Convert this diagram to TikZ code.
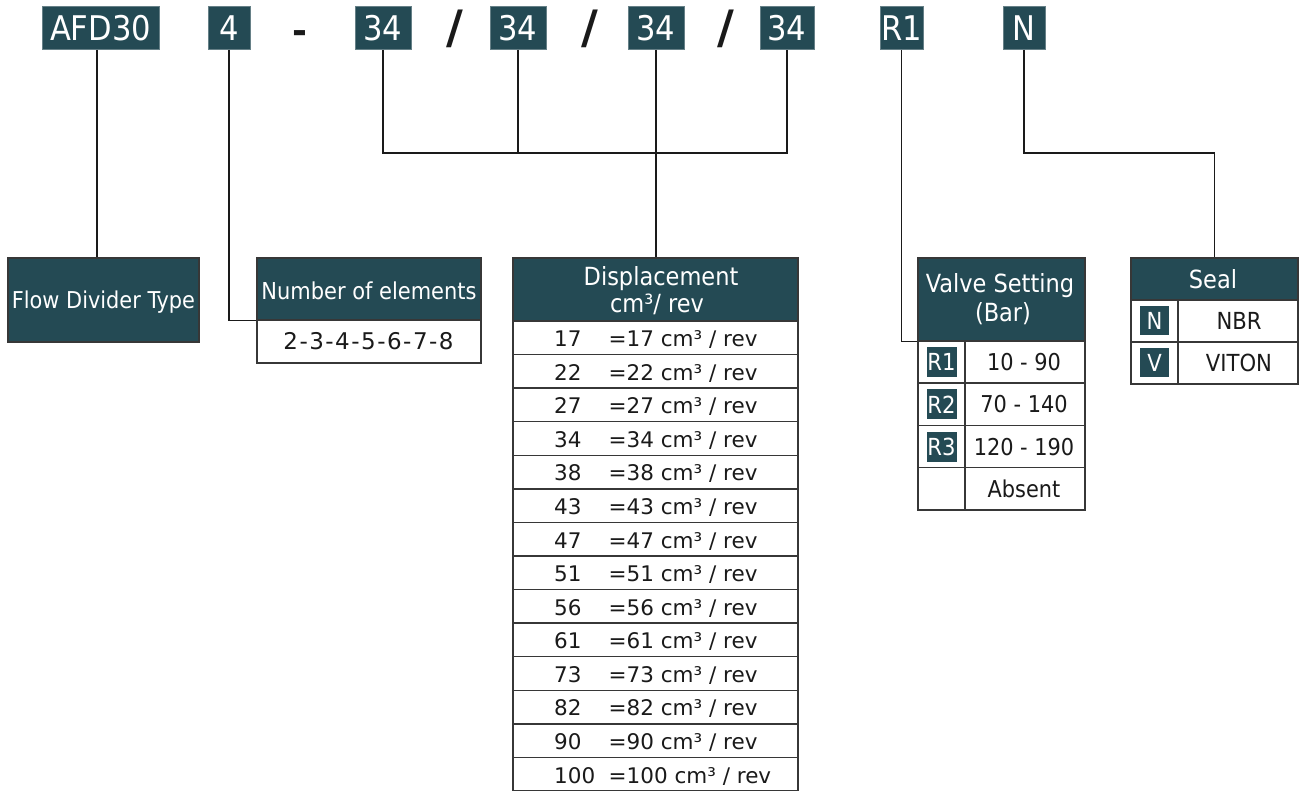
\documentclass[tikz,border=0pt]{standalone}
\usepackage{fontspec}
\setmainfont{DejaVu Sans}
\newfontfamily\condfont{DejaVu Sans Condensed}
\definecolor{dark}{RGB}{36,74,84}
\definecolor{edge}{RGB}{55,55,55}
\definecolor{ink}{RGB}{26,26,26}
\begin{document}
\begin{tikzpicture}[x=1pt,y=-1pt,
  code/.style={fill=dark, draw=dark!70!white, line width=0.8pt, text=white, inner sep=0pt, minimum height=43pt, font=\condfont\fontsize{34}{34}\selectfont},
  sep/.style={text=ink, inner sep=0pt, anchor=base},
  hdr/.style={fill=dark, draw=edge, line width=1.5pt, inner sep=0pt},
  htxt/.style={text=white, inner sep=0pt, anchor=base, font=\condfont\fontsize{25}{25}\selectfont},
  cell/.style={draw=edge, line width=1.5pt, fill=white, inner sep=0pt},
  tag/.style={fill=dark, text=white, inner sep=0pt, minimum width=30pt, minimum height=30pt, font=\condfont\fontsize{23.5}{23.5}\selectfont},
  conn/.style={draw=ink, line width=1.4pt},
  txt/.style={font=\fontsize{21.5}{21.5}\selectfont, inner sep=0pt, text=ink, anchor=base west},
  ctxt/.style={font=\condfont\fontsize{23.2}{23.2}\selectfont, inner sep=0pt, text=ink, anchor=base}]

\useasboundingbox (0,0) rectangle (1299,791);

% top code
\node[code, minimum width=117pt] (afd) at (100.5,28) {AFD30};
\node[code, minimum width=42pt] (four) at (229,28) {4};
\node[sep, font=\bfseries\fontsize{36}{36}\selectfont] (dash) at (300,43.5) {-};
\node[code, minimum width=56pt] (c1) at (383,28) {34};
\node[sep, font=\bfseries\fontsize{46}{46}\selectfont] (s1) at (455,43.5) {/};
\node[code, minimum width=56pt] (c2) at (518,28) {34};
\node[sep, font=\bfseries\fontsize{46}{46}\selectfont] (s2) at (590,43.5) {/};
\node[code, minimum width=56pt] (c3) at (656,28) {34};
\node[sep, font=\bfseries\fontsize{46}{46}\selectfont] (s3) at (726,43.5) {/};
\node[code, minimum width=54pt] (c4) at (787,28) {34};
\node[code, minimum width=43pt] (r1) at (901.5,28) {R1};
\node[code, minimum width=42pt] (n) at (1024,28) {N};

% flow divider type
\node[hdr, minimum width=191pt, minimum height=84pt] (fdt) at (103.5,300) {};
\node[htxt, font=\condfont\fontsize{23.2}{23.2}\selectfont] (fdtt) at (103.5,309) {Flow Divider Type};

% number of elements
\node[hdr, minimum width=224pt, minimum height=62pt] (noe) at (369,289) {};
\node[htxt, font=\condfont\fontsize{23.3}{23.3}\selectfont] (noet) at (369,300) {Number of elements};
\node[cell, minimum width=224pt, minimum height=43pt] (noer) at (369,341.5) {};
\node[txt, anchor=base, font=\fontsize{23}{23}\selectfont] (noerv) at (368.5,350) {2\kern1.5pt-\kern1.5pt3\kern1.5pt-\kern1.5pt4\kern1.5pt-\kern1.5pt5\kern1.5pt-\kern1.5pt6\kern1.5pt-\kern1.5pt7\kern1.5pt-\kern1.5pt8};

% displacement
\node[hdr, minimum width=285pt, minimum height=63pt] (disp) at (655.5,289.5) {};
\node[htxt] (dispt1) at (661,286) {Displacement};
\node[htxt] (dispt2) at (657,313) {cm³/ rev};
\foreach \v [count=\i from 0] in {17,22,27,34,38,43,47,51,56,61,73,82,90,100} {
  \pgfmathsetmacro\yc{321+33.57*\i+16.785}
  \node[cell, minimum width=285pt, minimum height=33.57pt] (d\i) at (655.5,\yc) {};
  \node[txt] (dn\i) at (554,\yc+8.9) {\v};
  \node[txt] (dv\i) at (608.5,\yc+8.9) {=\v\ cm³ / rev};
}

% valve setting
\node[hdr, minimum width=167pt, minimum height=83pt] (valve) at (1001.5,299.5) {};
\node[htxt] (valvet1) at (1000,293) {Valve Setting};
\node[htxt] (valvet2) at (1003,321.5) {(Bar)};
\foreach \t/\r [count=\i from 0] in {R1/10 - 90,R2/70 - 140,R3/120 - 190,/Absent} {
  \pgfmathsetmacro\yc{341+42.25*\i+21.125}
  \node[cell, minimum width=47pt, minimum height=42.25pt] (vl\i) at (941.5,\yc) {};
  \node[cell, minimum width=120pt, minimum height=42.25pt] (vr\i) at (1025,\yc) {};
  \node[ctxt] (vt\i) at (1024,\yc+8.6) {\r};
}
\node[tag] (tr1) at (vl0) {R1};
\node[tag] (tr2) at (vl1) {R2};
\node[tag] (tr3) at (vl2) {R3};

% seal
\node[hdr, minimum width=167pt, minimum height=42pt] (seal) at (1214.5,279) {};
\node[htxt] (sealt) at (1213,288.3) {Seal};
\foreach \t/\r [count=\i from 0] in {N/NBR,V/VITON} {
  \pgfmathsetmacro\yc{300+42*\i+21}
  \node[cell, minimum width=47pt, minimum height=42pt] (sl\i) at (1154.5,\yc) {};
  \node[cell, minimum width=120pt, minimum height=42pt] (sr\i) at (1238,\yc) {};
  \node[ctxt, font=\condfont\fontsize{23.5}{23.5}\selectfont] (st\i) at (1239,\yc+8.8) {\r};
  \node[tag, minimum width=29pt, minimum height=29pt] (stag\i) at (sl\i) {\t};
}

% connectors
\coordinate (bus) at (0,153);
\draw[conn] ([xshift=-3.5pt]afd.south) -- ([xshift=-3.5pt]afd.south |- fdt.north);
\draw[conn] (four.south) |- (noe.south west);
\draw[conn] (c1.south) -- (c1.south |- bus) -- (c4.south |- bus) -- (c4.south);
\draw[conn] (c2.south) -- (c2.south |- bus);
\draw[conn] (c3.south) -- (c3.south |- disp.north);
\draw[conn] (r1.south) |- (valve.south west);
\draw[conn] (n.south) -- (n.south |- bus) -| (seal.north);
\end{tikzpicture}
\end{document}
